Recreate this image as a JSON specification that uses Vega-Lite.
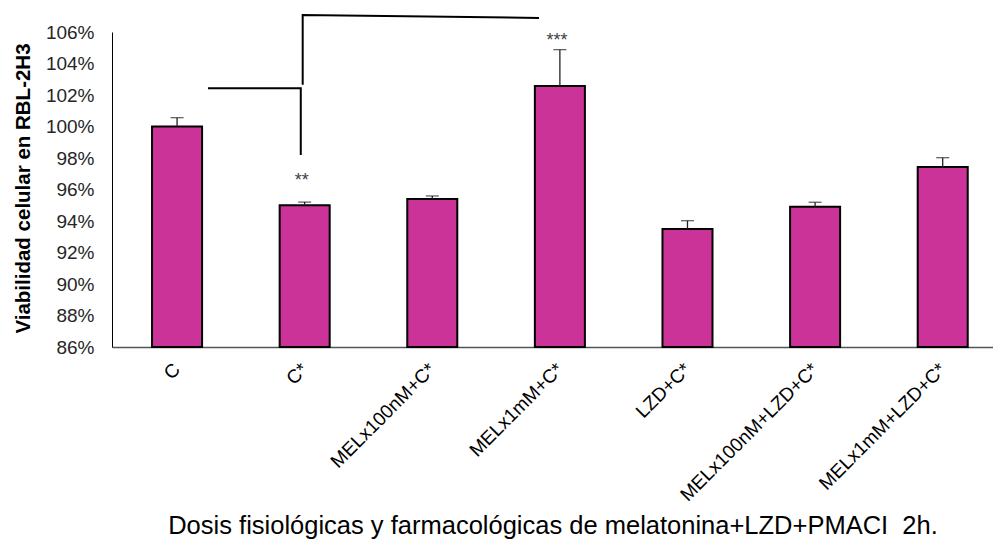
{
  "$schema": "https://vega.github.io/schema/vega-lite/v6.json",
  "width": 881,
  "height": 315,
  "autosize": {"type": "none"},
  "padding": {"left": 112, "top": 32, "right": 0, "bottom": 194},
  "background": "white",
  "config": {"view": {"stroke": null}, "font": "Liberation Sans"},
  "datasets": {
    "barras": [
      {"grupo": "C", "valor": 100.0, "superior": 100.56},
      {"grupo": "C*", "valor": 95.0, "superior": 95.2},
      {"grupo": "MELx100nM+C*", "valor": 95.4, "superior": 95.59},
      {"grupo": "MELx1mM+C*", "valor": 102.57, "superior": 104.88},
      {"grupo": "LZD+C*", "valor": 93.5, "superior": 94.02},
      {"grupo": "MELx100nM+LZD+C*", "valor": 94.91, "superior": 95.19},
      {"grupo": "MELx1mM+LZD+C*", "valor": 97.43, "superior": 98.02}
    ],
    "estrellas": [
      {"grupo": "C*", "valor": 96.22, "txt": "**"},
      {"grupo": "MELx1mM+C*", "valor": 105.1, "txt": "***"}
    ],
    "corchetes": [
      {"corchete": 1, "orden": 1, "xpos": 0.243, "valor": 102.43},
      {"corchete": 1, "orden": 2, "xpos": 0.97, "valor": 102.43},
      {"corchete": 1, "orden": 3, "xpos": 0.97, "valor": 98.19},
      {"corchete": 2, "orden": 1, "xpos": 0.985, "valor": 102.65},
      {"corchete": 2, "orden": 2, "xpos": 0.985, "valor": 107.08},
      {"corchete": 2, "orden": 3, "xpos": 2.837, "valor": 106.89}
    ]
  },
  "encoding": {
    "y": {
      "field": "valor",
      "type": "quantitative",
      "scale": {"domain": [86, 106], "zero": false, "nice": false},
      "axis": {
        "title": "Viabilidad celular en RBL-2H3",
        "values": [86, 88, 90, 92, 94, 96, 98, 100, 102, 104, 106],
        "labelExpr": "datum.value + '%'",
        "grid": false,
        "ticks": false,
        "domainColor": "#000000",
        "domainWidth": 1,
        "labelFontSize": 19,
        "labelColor": "#262626",
        "labelPadding": 18,
        "labelFont": "Liberation Sans",
        "titleFont": "Liberation Sans",
        "titleFontSize": 20.5,
        "titleFontWeight": "bold",
        "titleColor": "#000000",
        "titleX": -89,
        "titleY": 156,
        "titleBaseline": "middle"
      }
    }
  },
  "layer": [
    {
      "encoding": {
        "x": {
          "field": "grupo",
          "type": "nominal",
          "sort": null,
          "scale": {
            "domain": ["C", "C*", "MELx100nM+C*", "MELx1mM+C*", "LZD+C*", "MELx100nM+LZD+C*", "MELx1mM+LZD+C*"],
            "paddingInner": 0.608,
            "paddingOuter": 0.256,
            "align": 0.613
          },
          "axis": {
            "title": "Dosis fisiológicas y farmacológicas de melatonina+LZD+PMACI\u00a0 2h.",
            "labelAngle": -45,
            "labelAlign": "right",
            "labelBaseline": "middle",
            "labelPadding": 19,
            "labelFontSize": 19,
            "labelLimit": 0,
            "labelColor": "#000000",
            "labelFont": "Liberation Sans",
            "ticks": false,
            "grid": false,
            "domainColor": "#555555",
            "domainWidth": 1.5,
            "titleFont": "Liberation Sans",
            "titleFontSize": 25.5,
            "titleFontWeight": "normal",
            "titleColor": "#000000",
            "titleY": 186,
            "titleBaseline": "alphabetic"
          }
        }
      },
      "layer": [
        {
          "data": {"name": "barras"},
          "mark": {"type": "bar", "fill": "#CC3399", "stroke": "#000000", "strokeWidth": 2},
          "encoding": {"y2": {"datum": 86}}
        },
        {
          "data": {"name": "barras"},
          "mark": {"type": "rule", "color": "#222222", "strokeWidth": 1.3},
          "encoding": {"y2": {"field": "superior"}}
        },
        {
          "data": {"name": "barras"},
          "mark": {"type": "tick", "color": "#222222", "size": 13, "thickness": 1.3, "orient": "horizontal"},
          "encoding": {"y": {"field": "superior", "type": "quantitative"}}
        },
        {
          "data": {"name": "estrellas"},
          "mark": {"type": "text", "fontSize": 18, "color": "#404040", "baseline": "alphabetic", "align": "center", "dx": -3, "font": "Liberation Sans"},
          "encoding": {"text": {"field": "txt"}}
        }
      ]
    },
    {
      "data": {"name": "corchetes"},
      "mark": {"type": "line", "color": "#000000", "strokeWidth": 2, "clip": false},
      "encoding": {
        "x": {"field": "xpos", "type": "quantitative", "scale": {"domain": [-0.5094, 6.395], "nice": false, "zero": false}, "axis": null},
        "detail": {"field": "corchete"},
        "order": {"field": "orden"}
      }
    }
  ],
  "resolve": {"scale": {"x": "independent"}, "axis": {"x": "independent"}}
}
